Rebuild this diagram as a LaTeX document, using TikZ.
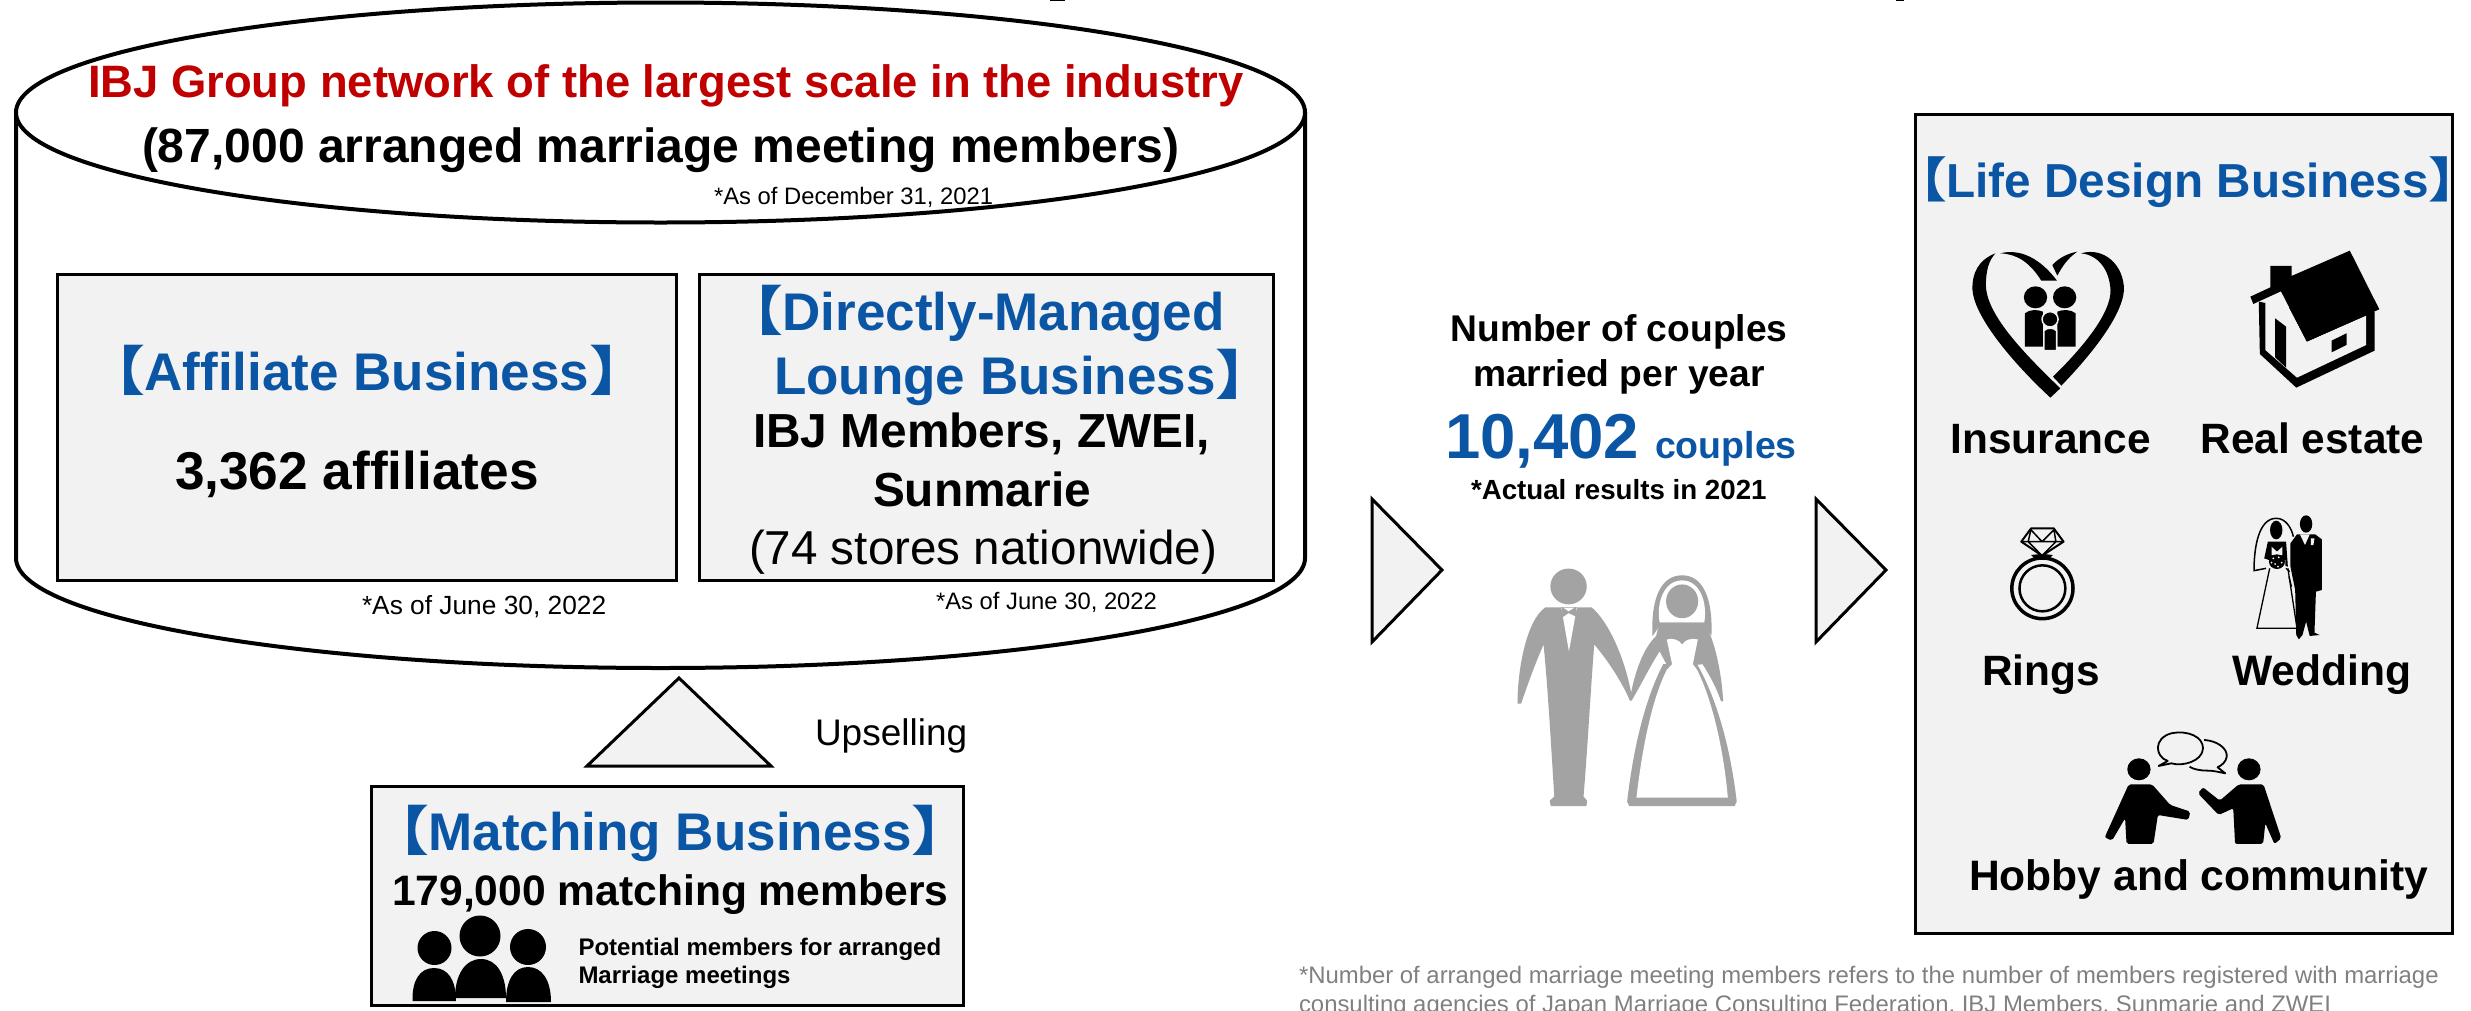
\documentclass[tikz,border=0pt]{standalone}
\usepackage{fontspec}
\usepackage{graphicx}
\setmainfont{Liberation Sans}
\newfontfamily\cjk{Noto Sans CJK JP}
\definecolor{ibjblue}{HTML}{0B55A5}
\definecolor{ibjred}{HTML}{C00000}
\definecolor{panel}{HTML}{F2F2F2}
\definecolor{icongrey}{HTML}{A3A3A3}
\definecolor{notegrey}{HTML}{808080}
\newcommand\fs[1]{\fontsize{#1}{#1}\selectfont}
\newcommand\lbk{\kern-.713em\scalebox{1.15}[1]{\cjk\bfseries 【}\kern-.01em}
\newcommand\rbk{\kern0em\scalebox{1.15}[1]{\cjk\bfseries 】}\kern-.7em}
\tikzset{
  txt/.style={anchor=base west,inner sep=0pt,outer sep=0pt,text=black},
  ctr/.style={anchor=base,inner sep=0pt,outer sep=0pt,text=black},
  panelbox/.style={draw=black,line width=3pt,fill=panel},
  tri/.style={draw=black,line width=3pt,fill=panel,line join=miter},
  zm/.style n args={4}{x=#3pt,y=-#4pt,shift={(#1pt,-#2pt)}},
}
\begin{document}
\begin{tikzpicture}[x=1pt,y=-1pt]
\path[use as bounding box] (0,0) rectangle (2471,1010);
\clip (0,0) rectangle (2471,1010);
% cut-off descenders at the top edge
\fill (1050,0) rectangle (1065,1);
\fill (1896,0) rectangle (1904,1);
% cylinder
\draw[line width=4pt,fill=white] (16,112) -- (16,558) arc[start angle=180,end angle=360,x radius=644.5,y radius=-110] -- (1305,112);
\draw[line width=4pt,fill=white] (660.5,112.5) ellipse[x radius=644.5,y radius=110];
\node[txt,text=ibjred] (title) at (88,97.5) {\fs{45.4}\bfseries IBJ Group network of the largest scale in the industry};
\node[txt] (members) at (142,162.5) {\fs{48}\bfseries (87,000 arranged marriage meeting members)};
\node[txt] (asofdec) at (714,204) {\fs{23.8}*As of December 31, 2021};
% boxes
\draw[panelbox] (57,274) rectangle (676,580);
\draw[panelbox] (699,274) rectangle (1273,580);
\node[txt,text=ibjblue] (aff) at (122,390) {\fs{53}\bfseries \lbk Affiliate Business\rbk};
\node[txt] (affn) at (175,489) {\fs{53.2}\bfseries 3,362 affiliates};
\node[txt,text=ibjblue] (dir1) at (760,330) {\fs{53}\bfseries \lbk Directly-Managed};
\node[txt,text=ibjblue] (dir2) at (774,394) {\fs{53}\bfseries Lounge Business\rbk};
\node[txt] (dir3) at (753,447.5) {\fs{47.8}\bfseries IBJ Members, ZWEI,};
\node[ctr] (dir4) at (982,506.5) {\fs{47.8}\bfseries Sunmarie};
\node[txt] (dir5) at (749,564) {\fs{47.6}(74 stores nationwide)};
\node[txt] (asof1) at (362,614) {\fs{26.3}*As of June 30, 2022};
\node[txt] (asof2) at (936,609) {\fs{23.8}*As of June 30, 2022};
% upsell
\draw[tri] (679,678) -- (771,766) -- (587,766) -- cycle;
\node[txt] (up) at (815,745) {\fs{37}Upselling};
\draw[panelbox] (371,786) rectangle (963,1005);
\node[txt,text=ibjblue] (mat) at (406,850) {\fs{53}\bfseries \lbk Matching Business\rbk};
\node[txt] (matn) at (392,905) {\fs{42.6}\bfseries 179,000 matching members};
\node[txt] (pot1) at (578.5,955) {\fs{24}\bfseries Potential members for arranged};
\node[txt] (pot2) at (578.5,983) {\fs{24}\bfseries Marriage meetings};
% people icon
\fill (434.5,948) ellipse[x radius=17,y radius=17];
\fill (480,936) ellipse[x radius=20.5,y radius=20.5];
\fill (528,947) ellipse[x radius=18,y radius=18];
\fill (412.5,1001) .. controls (412,980) and (420,968) .. (434,968) .. controls (448,968) and (456,980) .. (456,1001) -- cycle;
\fill (455,998) .. controls (455,975) and (465,959) .. (481,959) .. controls (497,959) and (506,975) .. (506,998) -- cycle;
\fill (506,1002) .. controls (506,980) and (514,967) .. (528,967) .. controls (542,967) and (551,980) .. (551,1002) -- cycle;
% triangles
\draw[tri] (1372,499) -- (1442,570) -- (1372,642) -- cycle;
\draw[tri] (1816,499) -- (1886,570) -- (1816,642) -- cycle;
% middle text
\node[ctr] (cp1) at (1619,341) {\fs{37.2}\bfseries Number of couples};
\node[ctr] (cp2) at (1619,386) {\fs{37.2}\bfseries married per year};
\node[txt,text=ibjblue] (num) at (1445,458) {\fs{63.5}\bfseries 10,402};
\node[txt,text=ibjblue] (numc) at (1655,458) {\fs{37.5}\bfseries couples};
\node[txt] (act) at (1471,499) {\fs{27.7}\bfseries *Actual results in 2021};
% couple (grey)
\begin{scope}[zm={1340}{300}{0.3571}{0.3378}]
\fill[icongrey] (640,848) ellipse[x radius=51,y radius=53];
\fill[icongrey] (575,910) -- (705,910) .. controls (750,950) and (800,1060) .. (818,1180) -- (812,1187) .. controls (790,1130) and (745,1060) .. (712,1020) .. controls (702,1150) and (695,1300) .. (682,1470) -- (692,1482) -- (690,1498) -- (590,1498) -- (587,1482) -- (600,1470) .. controls (590,1300) and (582,1150) .. (570,1020) .. controls (545,1080) and (525,1140) .. (507,1195) -- (497,1195) .. controls (497,1100) and (520,950) .. (575,910) -- cycle;
\fill[white] (620,912) -- (663,912) -- (641,1040) -- cycle;
\fill[icongrey] (621,908) -- (640,922) -- (661,908) -- (663,938) -- (640,927) -- (622,940) -- cycle;
% bride veil and head
\fill[icongrey] (875,995) .. controls (870,880) and (900,815) .. (958,815) .. controls (1015,815) and (1045,880) .. (1040,995) -- (1020,965) -- (895,965) -- cycle;
\fill[white] (895,955) .. controls (885,890) and (910,830) .. (958,830) .. controls (1005,830) and (1030,890) .. (1020,955) -- cycle;
\fill[icongrey] (958,892) ellipse[x radius=45,y radius=50];
% arms and torso
\fill[icongrey] (895,955) -- (1020,955) -- (1040,1000) .. controls (1060,1060) and (1070,1130) .. (1073,1188) -- (1067,1188) .. controls (1055,1150) and (1035,1110) .. (1015,1078) -- (1000,1080) -- (915,1080) -- (895,1040) .. controls (865,1090) and (840,1145) .. (816,1187) -- (812,1180) .. controls (825,1100) and (850,1030) .. (885,995) -- cycle;
% dress
\fill[icongrey] (905,1078) .. controls (850,1190) and (820,1340) .. (804,1485) -- (810,1498) -- (1105,1498) -- (1111,1485) .. controls (1095,1340) and (1060,1190) .. (1000,1078) -- cycle;
\fill[white] (915,1005) .. controls (930,1000) and (950,1005) .. (958,1020) .. controls (966,1005) and (985,1000) .. (1002,1005) -- (988,1078) -- (1000,1095) .. controls (1045,1190) and (1075,1340) .. (1086,1473) -- (830,1473) .. controls (845,1340) and (870,1190) .. (915,1095) -- (930,1078) -- cycle;
\end{scope}
% life design
\draw[panelbox] (1915,114) rectangle (2452,933);
\node[txt,text=ibjblue] (life) at (1926,197) {\fs{47.7}\bfseries \lbk Life Design Business\rbk};
\node[txt] (ins) at (1950.5,453) {\fs{42.4}\bfseries Insurance};
\node[txt] (real) at (2200.5,453) {\fs{42.4}\bfseries Real estate};
\node[txt] (rings) at (1982,685.7) {\fs{42.4}\bfseries Rings};
\node[txt] (wed) at (2232.5,685.7) {\fs{42.6}\bfseries Wedding};
\node[txt] (hobby) at (1969,890.7) {\fs{42.6}\bfseries Hobby and community};
% heart + house
\begin{scope}[zm={1900}{100}{0.3642}{0.3333}]
\fill (262,460) .. controls (215,480) and (197,520) .. (199,570) .. controls (205,660) and (330,810) .. (413,893) -- (440,865) .. controls (350,770) and (240,650) .. (236,560) .. controls (235,510) and (245,480) .. (262,460) -- cycle;
\fill (275,460) .. controls (330,445) and (385,475) .. (431,542) -- (388,542) .. controls (355,485) and (320,462) .. (275,460) -- cycle;
\fill (418,495) .. controls (435,475) and (460,460) .. (487,455) .. controls (460,475) and (445,500) .. (432,527) -- cycle;
\fill (497,460) .. controls (560,440) and (615,495) .. (615,570) .. controls (610,650) and (520,770) .. (443,857) -- (420,830) .. controls (500,745) and (580,640) .. (578,570) .. controls (575,510) and (545,465) .. (497,460) -- cycle;
\fill (372,592) ellipse[x radius=32,y radius=33];
\fill (452,592) ellipse[x radius=32,y radius=33];
\fill (343,740) -- (343,640) .. controls (355,628) and (378,628) .. (392,635) -- (392,740) -- cycle;
\fill (432,740) -- (432,635) .. controls (445,628) and (470,628) .. (482,640) -- (482,740) -- cycle;
\filldraw[draw=panel,line width=1.5pt,fill=black] (412,658) ellipse[x radius=22,y radius=23];
\filldraw[draw=panel,line width=1.5pt,fill=black] (395,752) -- (395,692) .. controls (405,682) and (420,682) .. (430,692) -- (430,752) -- cycle;
% house
\fill (985,605) -- (988,762) -- (1088,863) -- (1303,752) -- (1303,635) -- (1200,650) -- cycle;
\fill[panel] (1003,600) -- (1045,575) -- (1117,725) -- (1280,647) -- (1280,735) -- (1090,833) -- (1003,750) -- cycle;
\fill (962,590) -- (1017,562) -- (1017,498) -- (1075,498) -- (1075,528) -- (1235,452) -- (1316,628) -- (1117,725) -- (1046,574) -- (970,612) -- cycle;
\fill (1030,655) -- (1060,680) -- (1060,803) -- (1030,772) -- cycle;
\fill (1185,722) -- (1226,700) -- (1226,735) -- (1185,757) -- cycle;
\end{scope}
% ring, wedding, talk
\begin{scope}[zm={1900}{500}{0.3642}{0.3333}]
\draw[line width=3.5pt] (391,265) ellipse[x radius=84,y radius=91];
\draw[line width=2.5pt] (391,265) ellipse[x radius=63,y radius=69];
\draw[line width=2pt,line join=round] (360,85) -- (422,85) -- (449,125) -- (390,167) -- (333,125) -- cycle;
\draw[line width=1.5pt,line join=round] (333,125) -- (449,125) (360,85) -- (352,125) -- (390,167) -- (428,125) -- (422,85) (360,90) -- (390,125) -- (422,90);
\fill (360,165) -- (385,162) -- (390,170) -- (372,178) -- cycle;
\fill (420,165) -- (395,162) -- (390,170) -- (408,178) -- cycle;
% groom
\fill (1115,72) ellipse[x radius=17,y radius=26];
\fill (1090,103) -- (1140,103) -- (1158,118) -- (1158,270) -- (1142,275) -- (1138,398) -- (1152,405) -- (1125,408) -- (1115,365) -- (1105,405) -- (1095,418) -- (1088,405) -- (1085,270) -- (1072,200) -- (1072,130) -- cycle;
\fill[panel] (1098,103) -- (1125,103) -- (1112,135) -- cycle;
\fill[panel] (1128,115) -- (1138,115) -- (1135,135) -- (1128,135) -- cycle;
% bride
\draw[line width=1.5pt] (1005,205) -- (972,212) .. controls (972,140) and (985,55) .. (1033,55) .. controls (1060,55) and (1075,85) .. (1080,110);
\fill (1033,90) ellipse[x radius=17,y radius=28];
\fill (1010,125) -- (1060,125) -- (1065,200) -- (1000,175) -- cycle;
\fill[panel] (1020,140) -- (1035,155) -- (1050,140) -- (1050,165) -- (1020,165) -- cycle;
\draw[line width=1.3pt,fill=panel] (1015,205) -- (980,385) -- (1090,385) -- (1065,205);
\fill[panel] (1012,200) -- (1012,180) -- (1058,180) -- (1058,205) -- cycle;
\fill (1035,185) ellipse[x radius=22,y radius=22];
\foreach \a/\b in {1025/175,1040/172,1048/188,1030/192,1038/200,1020/188}{\fill[panel] (\a,\b) circle[radius=1pt];}
\draw[line width=1.3pt] (1060,205) -- (1070,215) (1068,230) -- (1075,260);
% talkers
\fill (656,808) ellipse[x radius=32,y radius=33];
\fill (958,808) ellipse[x radius=32,y radius=33];
\fill[rounded corners=2pt] (628,853) -- (692,853) -- (742,915) -- (797,935) -- (792,960) -- (708,945) -- (696,1032) -- (622,1032) -- (618,955) -- (582,1022) -- (562,1012) -- cycle;
\fill[rounded corners=2pt] (930,853) -- (998,853) -- (1047,1015) -- (1028,1032) -- (1003,970) -- (997,1032) -- (920,1032) -- (915,925) -- (875,945) -- (818,880) -- (832,862) -- (878,902) -- cycle;
\draw[line width=1.8pt,line join=round] (735,783) .. controls (700,770) and (695,715) .. (745,700) .. controls (790,690) and (832,710) .. (832,745) .. controls (830,785) and (775,800) .. (745,790) -- (710,798) -- cycle;
\draw[line width=1.8pt,line join=round] (835,720) .. controls (870,722) and (900,745) .. (897,770) .. controls (895,785) and (885,795) .. (872,802) -- (893,820) .. controls (870,815) and (860,812) .. (845,812) .. controls (825,812) and (805,808) .. (795,800);
\end{scope}
% footnote
\node[txt,text=notegrey] (fn1) at (1299,983) {\fs{23.9}*Number of arranged marriage meeting members refers to the number of members registered with marriage};
\node[txt,text=notegrey] (fn2) at (1299,1012) {\fs{23.9}consulting agencies of Japan Marriage Consulting Federation, IBJ Members, Sunmarie and ZWEI};
\end{tikzpicture}
\end{document}
